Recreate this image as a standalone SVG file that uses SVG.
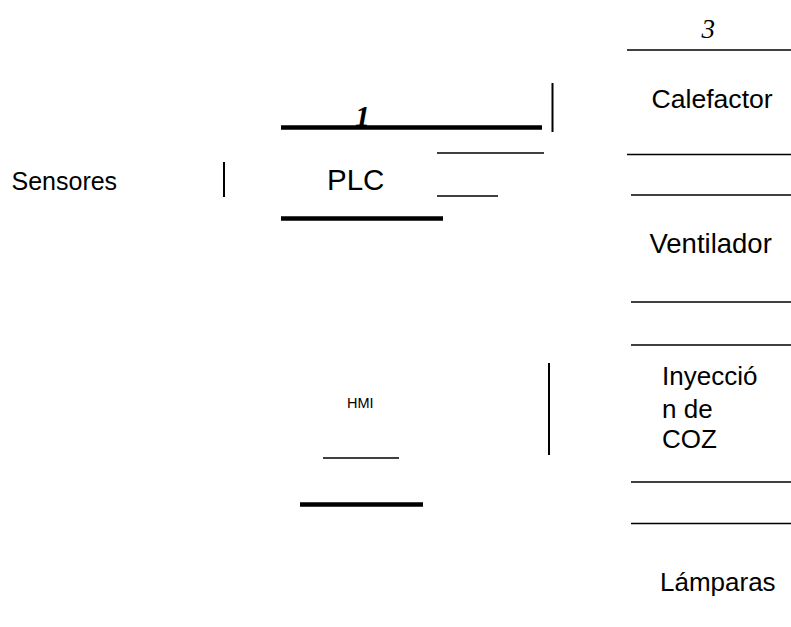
<svg xmlns="http://www.w3.org/2000/svg" width="791" height="627" viewBox="0 0 791 627">
  <style>
    .lbl { font-family: "Liberation Sans", Arial, sans-serif; font-size: 26px; fill: #000; }
    .num { font-family: "Liberation Serif", "Times New Roman", serif; font-style: italic; fill: #000; }
    .thin { stroke: #000; stroke-width: 1.6; fill: none; }
    .thick { stroke: #000; stroke-width: 4.5; fill: none; }
    .bar { stroke: #000; stroke-width: 2; fill: none; }
  </style>
  <rect width="791" height="627" fill="#fff"/>

  <!-- Sensores -->
  <g id="sensores">
    <text class="lbl" x="11.5" y="189.5" style="font-size:25px">Sensores</text>
  </g>

  <!-- PLC block with its index number -->
  <g id="plc">
    <text class="num" x="355" y="126" style="font-size:30px;font-weight:bold">1</text>
    <line class="thick" x1="281" y1="127.5" x2="542" y2="127.5"/>
    <text class="lbl" x="327" y="189.5" style="font-size:29.5px">PLC</text>
    <line class="thick" x1="281" y1="218.5" x2="443" y2="218.5"/>
    <line class="thin" x1="437" y1="153" x2="544" y2="153"/>
    <line class="thin" x1="437" y1="196" x2="498" y2="196"/>
  </g>

  <!-- HMI -->
  <g id="hmi">
    <text class="lbl" x="347" y="407.5" style="font-size:14.5px">HMI</text>
    <line class="thin" x1="323" y1="458" x2="399" y2="458"/>
    <line class="thick" x1="300" y1="504.5" x2="423" y2="504.5"/>
  </g>

  <!-- Actuators column -->
  <g id="calefactor">
    <text class="num" x="701.5" y="38" style="font-size:27px">3</text>
    <line class="thin" x1="627" y1="50" x2="791" y2="50"/>
    <text class="lbl" x="651.5" y="108" style="font-size:26.6px">Calefactor</text>
    <line class="thin" x1="627" y1="154.5" x2="791" y2="154.5"/>
  </g>

  <g id="ventilador">
    <line class="thin" x1="631" y1="195" x2="791" y2="195"/>
    <text class="lbl" x="649.5" y="253" style="font-size:27.5px">Ventilador</text>
    <line class="thin" x1="631" y1="302" x2="791" y2="302"/>
  </g>

  <g id="inyeccion">
    <line class="thin" x1="631" y1="345" x2="791" y2="345"/>
    <text class="lbl" x="662" y="385">Inyecció</text>
    <text class="lbl" x="662" y="418">n de</text>
    <text class="lbl" x="662" y="448">COZ</text>
    <line class="thin" x1="631" y1="482" x2="791" y2="482"/>
  </g>

  <g id="lamparas">
    <line class="thin" x1="631" y1="523.5" x2="791" y2="523.5"/>
    <text class="lbl" x="660" y="590.5">Lámparas</text>
  </g>

  <!-- Connector stubs -->
  <g id="connectors">
    <line class="bar" x1="224" y1="162" x2="224" y2="197"/>
    <line class="bar" x1="552.5" y1="83" x2="552.5" y2="132"/>
    <line class="bar" x1="549" y1="363" x2="549" y2="455"/>
  </g>
</svg>
